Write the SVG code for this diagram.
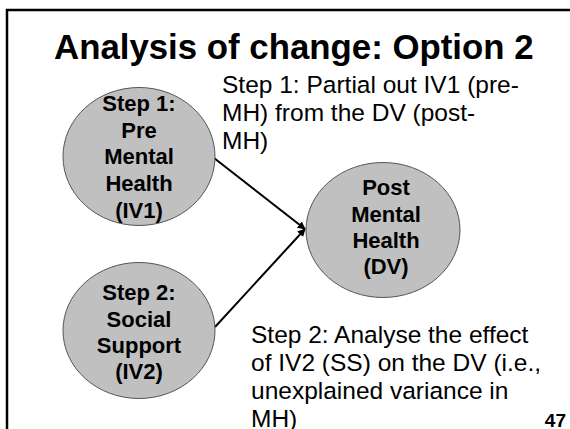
<svg xmlns="http://www.w3.org/2000/svg" width="570" height="429" viewBox="0 0 570 429">
<style>
.node{fill:#c0c0c0;stroke:#555;stroke-width:1}
.nt{font-family:"Liberation Sans",Arial,sans-serif;font-weight:bold;font-size:22px;fill:#000;text-anchor:middle}
.bt{font-family:"Liberation Sans",Arial,sans-serif;font-size:24.5px;fill:#000}
.conn{stroke:#000;stroke-width:2;fill:none;marker-end:url(#ah)}
</style>
<defs>
<marker id="ah" viewBox="0 0 10 10" refX="9" refY="5" markerWidth="4" markerHeight="4" orient="auto" markerUnits="strokeWidth">
<path d="M0,0 L10,5 L0,10 z" fill="#000"/>
</marker>
</defs>
<rect width="570" height="429" fill="#fff"/>
<g id="frame">
<path d="M7,429 V10 H570" fill="none" stroke="#000" stroke-width="2.5"/>
</g>
<text x="54" y="59" font-family="Liberation Sans,Arial,sans-serif" font-weight="bold" font-size="34.8" fill="#000">Analysis of change: Option 2</text>
<g id="connectors">
<line class="conn" x1="214" y1="158" x2="305" y2="229"/>
<line class="conn" x1="215" y1="327" x2="305" y2="229"/>
</g>
<g id="iv1">
<ellipse class="node" cx="139" cy="156.5" rx="76" ry="69"/>
<text class="nt" x="139" y="111">Step 1:</text>
<text class="nt" x="139" y="138">Pre</text>
<text class="nt" x="139" y="164">Mental</text>
<text class="nt" x="139" y="191">Health</text>
<text class="nt" x="139" y="218">(IV1)</text>
</g>
<g id="iv2">
<ellipse class="node" cx="139" cy="330.5" rx="76" ry="68"/>
<text class="nt" x="139" y="300">Step 2:</text>
<text class="nt" x="139" y="327">Social</text>
<text class="nt" x="139" y="353">Support</text>
<text class="nt" x="139" y="379">(IV2)</text>
</g>
<g id="dv">
<ellipse class="node" cx="383" cy="230" rx="77" ry="67.5"/>
<text class="nt" x="386" y="195">Post</text>
<text class="nt" x="386" y="222">Mental</text>
<text class="nt" x="386" y="248">Health</text>
<text class="nt" x="386" y="274">(DV)</text>
</g>
<g id="label-step1">
<text class="bt" x="222" y="93">Step 1: Partial out IV1 (pre-</text>
<text class="bt" x="222" y="121">MH) from the DV (post-</text>
<text class="bt" x="222" y="149">MH)</text>
</g>
<g id="label-step2">
<text class="bt" x="251" y="343">Step 2: Analyse the effect</text>
<text class="bt" x="251" y="371">of IV2 (SS) on the DV (i.e.,</text>
<text class="bt" x="251" y="399">unexplained variance in</text>
<text class="bt" x="251" y="427">MH)</text>
</g>
<text x="566" y="427" text-anchor="end" font-family="Liberation Sans,Arial,sans-serif" font-weight="bold" font-size="19" fill="#000">47</text>
</svg>
